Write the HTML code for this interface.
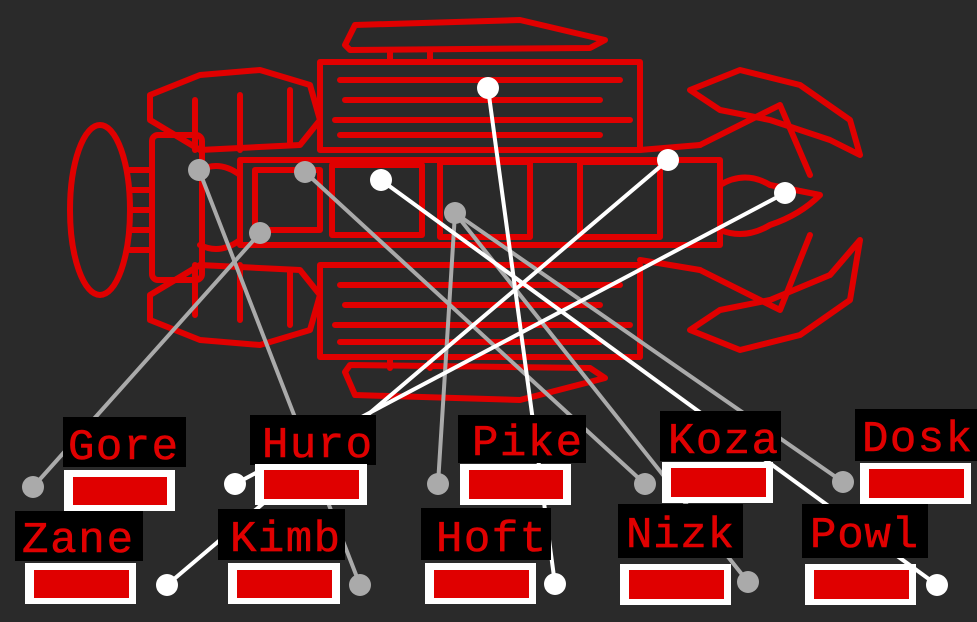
<!DOCTYPE html>
<html><head><style>
html,body{margin:0;padding:0;background:#2a2a2a;}
svg{display:block}
.t{font-family:"Liberation Mono",monospace;font-size:44px;fill:#e00000;stroke:#e00000;stroke-width:0.6;}
</style></head><body>
<svg width="977" height="622" viewBox="0 0 977 622" xmlns="http://www.w3.org/2000/svg">
<rect width="977" height="622" fill="#2a2a2a"/>
<g fill="none" stroke="#e00000" stroke-width="6" stroke-linejoin="round" stroke-linecap="round">
 <ellipse cx="100" cy="210" rx="30" ry="85"/>
 <path d="M130 170H152M130 190H152M130 210H152M130 230H152M130 250H152"/>
 <rect x="152" y="135" width="50" height="145" rx="6"/>
 <path d="M150 95 L200 75 L260 70 L310 85 L320 120 L300 145 L200 150 L150 120 Z"/>
 <path d="M195 100V150M240 95V150M290 90V145"/>
 <path d="M150 320 L200 340 L260 345 L310 330 L320 295 L300 270 L200 265 L150 295 Z"/>
 <path d="M195 315V265M240 320V265M290 325V270"/>
 <rect x="240" y="160" width="480" height="85"/>
 <rect x="255" y="170" width="65" height="60"/>
 <rect x="332" y="165" width="90" height="70"/>
 <rect x="440" y="162" width="90" height="75"/>
 <rect x="580" y="162" width="80" height="75"/>
 <path d="M200 170 Q220 160 240 175 M200 245 Q220 255 240 240"/>
 <rect x="320" y="62" width="320" height="88"/>
 <path d="M340 80H620M345 100H600M335 120H630M340 135H600"/>
 <path d="M345 45 L355 25 L520 20 L605 40 L590 48 L350 50 Z"/>
 <path d="M390 52V62M430 52V62"/>
 <rect x="320" y="265" width="320" height="92"/>
 <path d="M340 285H620M345 305H600M335 325H630M340 342H600"/>
 <path d="M345 372 L355 395 L520 400 L605 378 L590 368 L350 365 Z"/>
 <path d="M390 357V368M430 357V368"/>
 <path d="M720 185 Q745 170 770 185 L820 195 Q800 215 770 225 Q745 240 720 230 Z"/>
 <path d="M690 90 L740 70 L800 85 L850 120 L860 155 L830 140 L770 120 L720 110 Z"/>
 <path d="M690 330 L740 350 L800 335 L850 300 L860 240 L830 275 L770 300 L720 310 Z"/>
 <path d="M700 145 L780 105 M780 105 L810 175 M700 270 L780 310 M780 310 L810 235"/>
 <path d="M640 150 L700 145 M640 260 L700 270"/>
</g>
<g stroke-width="4" stroke-linecap="round">
 <line x1="33" y1="487" x2="260" y2="233" stroke="#aaa"/>
 <line x1="360" y1="585" x2="199" y2="170" stroke="#aaa"/>
 <line x1="438" y1="484" x2="455" y2="213" stroke="#aaa"/>
 <line x1="645" y1="484" x2="305" y2="172" stroke="#aaa"/>
 <line x1="748" y1="582" x2="455" y2="213" stroke="#aaa"/>
 <line x1="843" y1="482" x2="455" y2="213" stroke="#aaa"/>
 <line x1="235" y1="484" x2="785" y2="193" stroke="#fff"/>
 <line x1="167" y1="585" x2="668" y2="160" stroke="#fff"/>
 <line x1="555" y1="584" x2="488" y2="88" stroke="#fff"/>
 <line x1="937" y1="585" x2="381" y2="180" stroke="#fff"/>
</g>
<g fill="#aaa">
 <circle cx="33" cy="487" r="11"/><circle cx="260" cy="233" r="11"/>
 <circle cx="360" cy="585" r="11"/><circle cx="199" cy="170" r="11"/>
 <circle cx="438" cy="484" r="11"/><circle cx="455" cy="213" r="11"/>
 <circle cx="645" cy="484" r="11"/><circle cx="305" cy="172" r="11"/>
 <circle cx="748" cy="582" r="11"/><circle cx="843" cy="482" r="11"/>
</g>
<g fill="#fff">
 <circle cx="235" cy="484" r="11"/><circle cx="785" cy="193" r="11"/>
 <circle cx="167" cy="585" r="11"/><circle cx="668" cy="160" r="11"/>
 <circle cx="555" cy="584" r="11"/><circle cx="488" cy="88" r="11"/>
 <circle cx="937" cy="585" r="11"/><circle cx="381" cy="180" r="11"/>
</g>
<g>
 <rect x="63" y="417" width="123" height="50" fill="#000"/><text class="t" x="68" y="459" textLength="110">Gore</text>
 <rect x="64" y="470" width="111" height="41" fill="#fff"/><rect x="73" y="477" width="94" height="28" fill="#e00000"/>
 <rect x="250" y="415" width="126" height="50" fill="#000"/><text class="t" x="262" y="457" textLength="110">Huro</text>
 <rect x="255" y="464" width="112" height="41" fill="#fff"/><rect x="264" y="470" width="95" height="29" fill="#e00000"/>
 <rect x="458" y="415" width="128" height="48" fill="#000"/><text class="t" x="472" y="455" textLength="110">Pike</text>
 <rect x="460" y="464" width="111" height="41" fill="#fff"/><rect x="469" y="470" width="94" height="29" fill="#e00000"/>
 <rect x="660" y="411" width="121" height="50" fill="#000"/><text class="t" x="668" y="453" textLength="110">Koza</text>
 <rect x="662" y="462" width="111" height="41" fill="#fff"/><rect x="671" y="468" width="95" height="29" fill="#e00000"/>
 <rect x="855" y="409" width="122" height="52" fill="#000"/><text class="t" x="862" y="451" textLength="110">Dosk</text>
 <rect x="860" y="463" width="111" height="41" fill="#fff"/><rect x="869" y="469" width="95" height="29" fill="#e00000"/>
 <rect x="15" y="511" width="128" height="50" fill="#000"/><text class="t" x="22" y="552" textLength="111">Zane</text>
 <rect x="25" y="563" width="111" height="41" fill="#fff"/><rect x="34" y="570" width="95" height="28" fill="#e00000"/>
 <rect x="218" y="509" width="127" height="51" fill="#000"/><text class="t" x="230" y="551" textLength="110">Kimb</text>
 <rect x="228" y="563" width="112" height="41" fill="#fff"/><rect x="237" y="570" width="95" height="28" fill="#e00000"/>
 <rect x="421" y="508" width="130" height="52" fill="#000"/><text class="t" x="436" y="551" textLength="110">Hoft</text>
 <rect x="425" y="563" width="111" height="41" fill="#fff"/><rect x="434" y="570" width="95" height="28" fill="#e00000"/>
 <rect x="618" y="504" width="125" height="54" fill="#000"/><text class="t" x="626" y="547" textLength="108">Nizk</text>
 <rect x="620" y="564" width="111" height="41" fill="#fff"/><rect x="629" y="570" width="95" height="29" fill="#e00000"/>
 <rect x="802" y="504" width="126" height="54" fill="#000"/><text class="t" x="810" y="547" textLength="108">Powl</text>
 <rect x="805" y="564" width="111" height="41" fill="#fff"/><rect x="814" y="570" width="95" height="29" fill="#e00000"/>
</g>
</svg>
</body></html>
